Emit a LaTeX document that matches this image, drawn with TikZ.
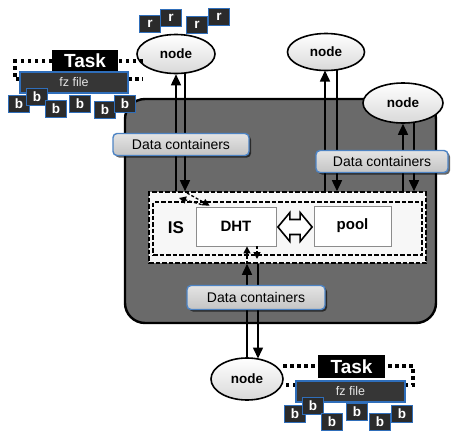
\documentclass[tikz,border=0pt]{standalone}
\usepackage{fontspec}
\setmainfont{Liberation Sans}
\usetikzlibrary{arrows.meta,shapes.geometric,shadows,calc}

\definecolor{panel}{HTML}{6A6A6A}
\definecolor{edgeblue}{HTML}{2F6EBA}
\definecolor{chipfill}{HTML}{2B2B2B}
\definecolor{barfill}{HTML}{363636}
\definecolor{tagtop}{HTML}{E4E4E4}
\definecolor{tagbot}{HTML}{C4C4C4}

\tikzset{
  host/.style={ellipse, draw, line width=1.6pt, top color=white, bottom color=black!15,
    minimum width=78pt, minimum height=39pt, inner sep=0pt,
    font=\fontsize{13.5}{14}\selectfont\bfseries},
  chip/.style={draw=edgeblue, line width=1.8pt, fill=chipfill, text=white,
    minimum width=21pt, minimum height=17pt, inner sep=0pt,
    font=\fontsize{13.5}{13}\selectfont\bfseries},
  tasklabel/.style={fill=black, text=white, minimum width=66pt, minimum height=21pt,
    inner sep=0pt, font=\fontsize{19}{19}\selectfont\bfseries},
  fzbar/.style={draw=edgeblue, line width=2pt, fill=barfill, text=white!90!black,
    minimum width=108pt, minimum height=21pt, inner sep=0pt,
    font=\fontsize{12.5}{13}\selectfont},
  tag/.style={rounded corners=4pt, draw=edgeblue!85, line width=1.4pt,
    top color=tagtop, bottom color=tagbot, minimum height=22pt, inner sep=0pt,
    font=\fontsize{14}{14}\selectfont,
    drop shadow={shadow xshift=2pt, shadow yshift=-2pt, fill=black, opacity=0.6}},
  unit/.style={draw=black!45, line width=0.8pt, fill=white, inner sep=0pt,
    font=\fontsize{15}{15}\selectfont\bfseries},
  dotline/.style={line width=3.5pt, dash pattern=on 3.5pt off 3.5pt},
  isframe/.style={line width=1.6pt, dash pattern=on 4.5pt off 2pt},
  flow/.style={line width=1.6pt, -{Triangle[length=11pt,width=10pt]}},
  hop/.style={line width=1.3pt, dash pattern=on 3pt off 2pt,
    -{Triangle[length=7pt,width=7pt]}},
  hollowlink/.style={draw, fill=white, line width=1.6pt, line join=miter},
}

\begin{document}
\begin{tikzpicture}[x=1pt, y=-1pt]
\useasboundingbox (0,0) rectangle (451,432);

% ---- cluster panel ----
\draw[line width=2.4pt, fill=panel, rounded corners=20pt] (125,99) rectangle (436,323);

% ---- IS strip with double dashed frame ----
\node[fill=white!97!black, isframe, draw, minimum width=277pt, minimum height=71pt,
  inner sep=0pt] (is) at (287.5,227.5) {};
\node[isframe, draw, minimum width=269pt, minimum height=53pt, inner sep=0pt]
  (isinner) at (287.5,228.5) {};
\node[font=\fontsize{17}{17}\selectfont\bfseries] (islabel) at (176,228) {IS};
\node[unit, minimum width=80pt, minimum height=39pt] (dht) at (236,226.5) {DHT};
\node[unit, minimum width=77pt, minimum height=40pt] (pool) at (352.5,226) {pool};

% hollow two-way link between DHT and pool
\coordinate (la) at ($(dht.east)+(1.5,0.5)$);
\coordinate (lb) at ($(pool.west)+(-1.5,1)$);
\draw[hollowlink] (la) -- ++(12,-14.5) -- ++(0,7) -- ($(lb)+(-12,-7.5)$) -- ++(0,-7)
  -- (lb) -- ++(-12,14.5) -- ++(0,-7) -- ($(la)+(12,7.5)$) -- ++(0,7) -- cycle;

% ---- hosts ----
\node[host] (hl) at (176,54) {node};
\node[host, minimum width=77pt, minimum height=37pt] (hm) at (326,52) {node};
\node[host, minimum width=80pt, minimum height=40pt] (hr) at (403,103) {node};
\node[host, minimum width=72pt, minimum height=42pt] (hb) at (247,379) {node};

% ---- transfers between hosts and IS ----
\draw[flow] (176,0 |- is.north) -- (176,0 |- hl.south);
\draw[flow] (185,72.5) -- (185,0 |- is.north);
\draw[flow] (325,0 |- is.north) -- (325,70.5);
\draw[flow] (337,69.5) -- (337,0 |- is.north);
\draw[flow] (403,0 |- is.north) -- (hr.south);
\draw[flow] (414,122) -- (414,0 |- is.north);
\draw[flow] (hb.north) -- (247,0 |- is.south);
\draw[flow] (258,0 |- is.south) -- (258,358.5);

% ---- hops between IS frame and DHT ----
\draw[hop] (187,193) -- ($(dht.north west)+(14,-1)$);
\draw[hop] ($(dht.north west)+(6,-2)$) -- (179,198);
\draw[hop] (247,0 |- is.south) -- (247,0 |- dht.south);
\draw[hop] (257,0 |- dht.south) -- (257,259);

% ---- data container tags ----
\node[tag, minimum width=136pt] (tagl) at (181,144.5) {Data containers};
\node[tag, minimum width=132pt] (tagr) at (382,161.5) {Data containers};
\node[tag, minimum width=138pt, minimum height=24pt] (tagb) at (256,297.5) {Data containers};

% ---- task at the upper-left host ----
\draw[dotline] (143,61) -- (15,61) -- (15,79) -- (143,79);
\node[tasklabel] (taskl) at (85,60.5) {Task};
\node[fzbar] (fzl) at (74,82.5) {fz file};
\node[chip] (bl1) at (19,104) {b};
\node[chip] (bl2) at (37,97) {b};
\node[chip] (bl3) at (56,109) {b};
\node[chip] (bl4) at (80,104) {b};
\node[chip] (bl5) at (105,110) {b};
\node[chip] (bl6) at (125,104) {b};

% ---- results at the upper-left host ----
\node[chip] (r1) at (150,24) {r};
\node[chip] (r2) at (171,18) {r};
\node[chip] (r3) at (197,25) {r};
\node[chip] (r4) at (219,17) {r};

% ---- task at the lower host ----
\draw[dotline] (283,366) -- (413,366) -- (413,385) -- (283,385);
\node[tasklabel, minimum width=67pt, minimum height=23pt] (taskb) at (351.5,366.5) {Task};
\node[fzbar, minimum width=109pt] (fzb) at (350.5,391) {fz file};
\node[chip] (bb1) at (295,414) {b};
\node[chip] (bb2) at (313,406) {b};
\node[chip] (bb3) at (332,422) {b};
\node[chip] (bb4) at (357,412) {b};
\node[chip] (bb5) at (380,422) {b};
\node[chip] (bb6) at (402,414) {b};
\end{tikzpicture}
\end{document}
